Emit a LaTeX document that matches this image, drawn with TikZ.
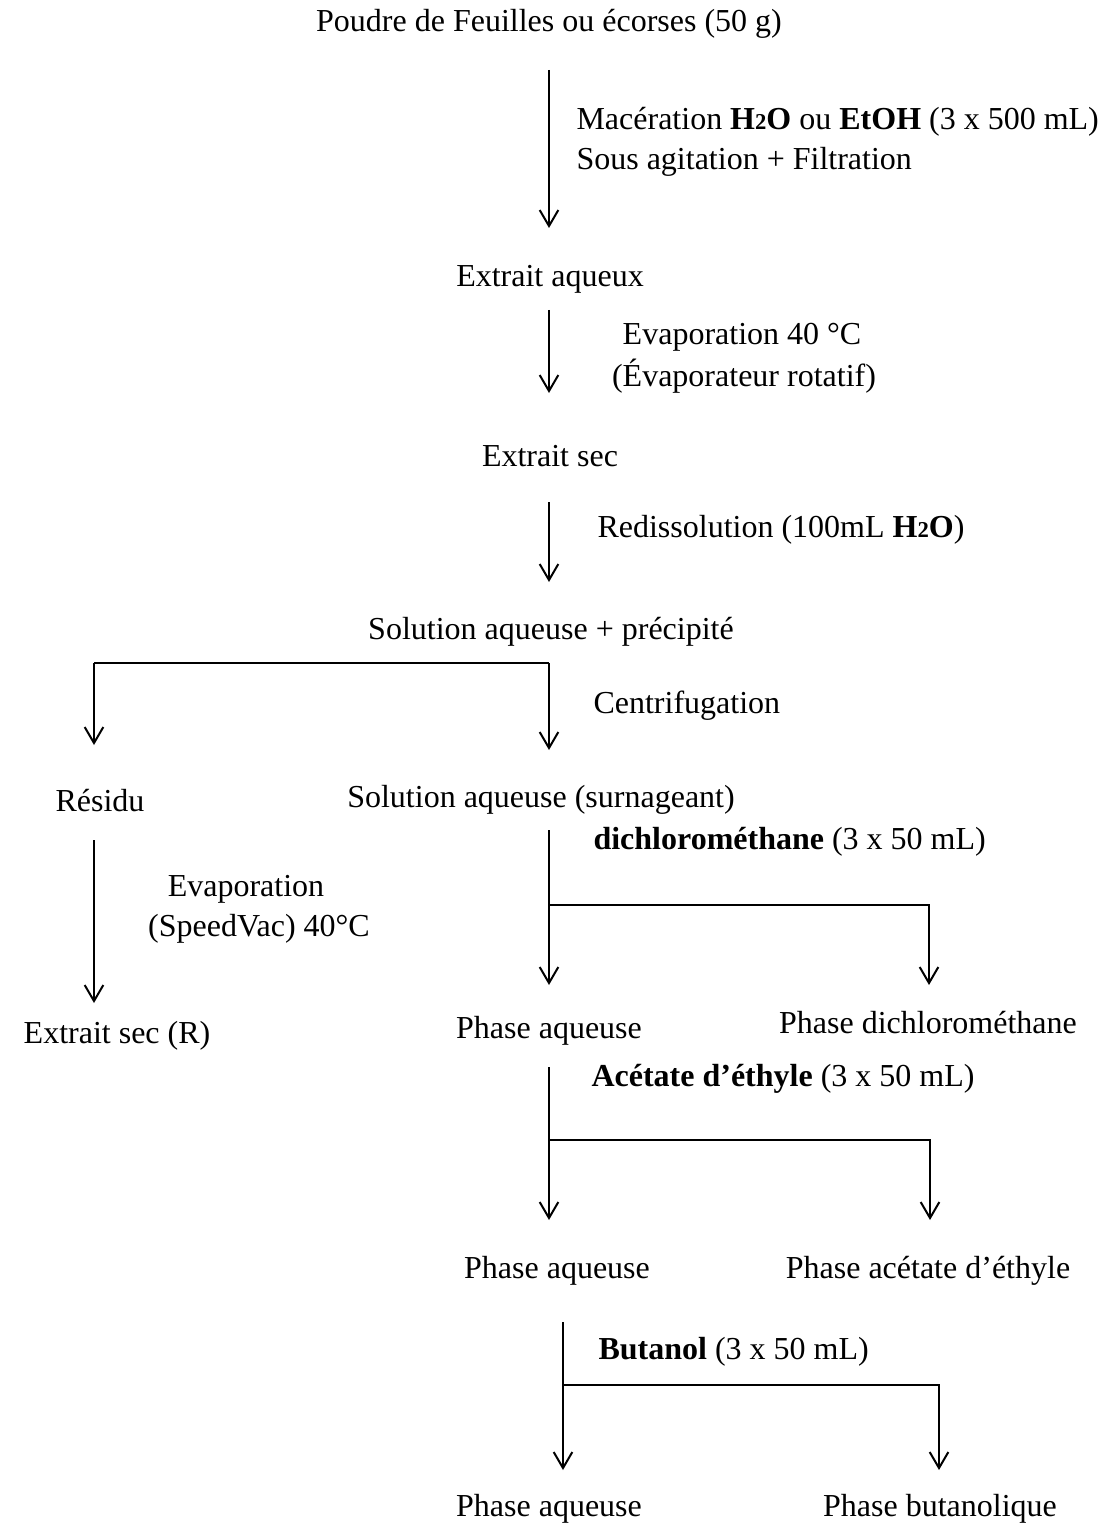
\documentclass[tikz,border=0pt]{standalone}
\usepackage{fontspec}
\setmainfont{Liberation Serif}
\usetikzlibrary{arrows.meta}
\newcommand{\htwo}{\textbf{H{\fontsize{8.5}{8.5}\selectfont 2}O}}
\begin{document}
\begin{tikzpicture}[x=0.375pt,y=-0.375pt,
  txt/.style={inner sep=0pt,font=\fontsize{12}{14}\selectfont},
  ctr/.style={txt,anchor=base},
  lft/.style={txt,anchor=base west},
  flow/.style={line width=0.75pt,-{Straight Barb[length=6pt,width=7pt,line width=0.75pt]}},
  bar/.style={line width=0.75pt}]
\useasboundingbox (0,0) rectangle (1104,1526);
% texts
\node[ctr] (poudre) at (549,32) {Poudre de Feuilles ou écorses (50 g)};
\node[lft] (mac) at (576,130) {Macération \htwo{} ou \textbf{EtOH} (3 x 500 mL)};
\node[lft] (sous) at (576,170) {Sous agitation + Filtration};
\node[ctr] (aqueux) at (550,287) {Extrait aqueux};
\node[ctr] (evap) at (742,344) {Evaporation 40 °C};
\node[ctr] (rot) at (744,386) {(Évaporateur rotatif)};
\node[ctr] (sec) at (550,466) {Extrait sec};
\node[lft] (redis) at (597,537) {Redissolution (100mL \htwo)};
\node[ctr] (solprec) at (551,639) {Solution aqueuse + précipité};
\node[lft] (centri) at (593,713) {Centrifugation};
\node[ctr] (residu) at (100,811) {Résidu};
\node[ctr] (surn) at (541,807) {Solution aqueuse (surnageant)};
\node[ctr] (evap2) at (246,896) {Evaporation};
\node[ctr] (speed) at (259,936) {(SpeedVac) 40°C};
\node[ctr] (secR) at (117,1043) {Extrait sec (R)};
\node[lft] (dcm) at (593,849) {\textbf{dichlorométhane} (3 x 50 mL)};
\node[ctr] (pa1) at (549,1038) {Phase aqueuse};
\node[ctr] (pdcm) at (928,1033) {Phase dichlorométhane};
\node[lft] (acet) at (591,1086) {\textbf{Acétate d’éthyle} (3 x 50 mL)};
\node[ctr] (pa2) at (557,1278) {Phase aqueuse};
\node[ctr] (pacet) at (928,1278) {Phase acétate d’éthyle};
\node[lft] (buta) at (598,1359) {\textbf{Butanol} (3 x 50 mL)};
\node[ctr] (pa3) at (549,1516) {Phase aqueuse};
\node[ctr] (pbut) at (940,1516) {Phase butanolique};
% coordinates
\coordinate (a1s) at (549,70);   \coordinate (a1e) at (549,228);
\coordinate (a2s) at (549,310);  \coordinate (a2e) at (549,393);
\coordinate (a3s) at (549,502);  \coordinate (a3e) at (549,582);
\coordinate (bL) at (94,663);    \coordinate (bR) at (549,663);
\coordinate (bLe) at (94,745);   \coordinate (bRe) at (549,750);
\coordinate (rs) at (94,840);    \coordinate (re) at (94,1003);
\coordinate (d1s) at (549,830);  \coordinate (d1e) at (549,985);
\coordinate (d1j) at (549,905);  \coordinate (d1r) at (929,905);  \coordinate (d1re) at (929,985);
\coordinate (d2s) at (549,1067); \coordinate (d2e) at (549,1220);
\coordinate (d2j) at (549,1140); \coordinate (d2r) at (930,1140); \coordinate (d2re) at (930,1220);
\coordinate (d3s) at (563,1322); \coordinate (d3e) at (563,1470);
\coordinate (d3j) at (563,1385); \coordinate (d3r) at (939,1385); \coordinate (d3re) at (939,1470);
% connectors
\draw[flow] (a1s) -- (a1e);
\draw[flow] (a2s) -- (a2e);
\draw[flow] (a3s) -- (a3e);
\draw[bar] (bL) -- (bR);
\draw[flow] (bL) -- (bLe);
\draw[flow] (bR) -- (bRe);
\draw[flow] (rs) -- (re);
\draw[flow] (d1s) -- (d1e);
\draw[flow] (d1j) -- (d1r) -- (d1re);
\draw[flow] (d2s) -- (d2e);
\draw[flow] (d2j) -- (d2r) -- (d2re);
\draw[flow] (d3s) -- (d3e);
\draw[flow] (d3j) -- (d3r) -- (d3re);
\end{tikzpicture}
\end{document}
